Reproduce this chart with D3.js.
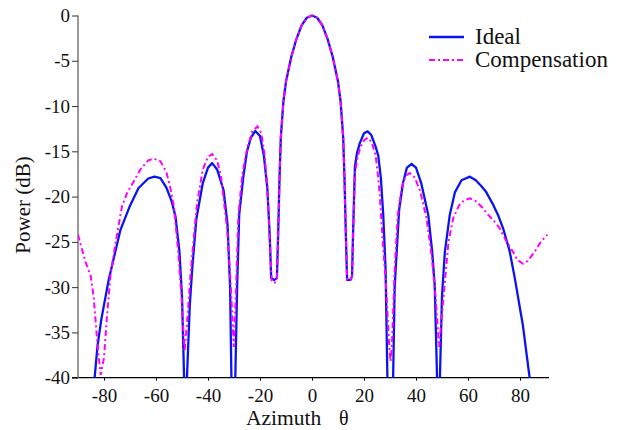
<!DOCTYPE html>
<html>
<head>
<meta charset="utf-8">
<script src="https://cdn.jsdelivr.net/npm/d3@7"></script>
<style>
  html, body { margin: 0; padding: 0; background: #ffffff; }
  svg { display: block; }
  text { font-family: "Liberation Serif", "Times New Roman", Times, serif; fill: #111; }
</style>
</head>
<body>
<svg id="chart" width="633" height="430"></svg>
<script>
// ---------- data ----------
const xTicks = [-80, -60, -40, -20, 0, 20, 40, 60, 80];
const yTicks = [0, -5, -10, -15, -20, -25, -30, -35, -40];
const seriesNames = ["Ideal", "Compensation"];

const idealAz = [-86, -83.6, -82.5, -81, -78.2, -76, -73.7, -70, -66.7, -63, -60.6, -58.3, -56, -54, -52.5, -51, -50, -49.2, -48.6, -48.1, -47, -46.1, -44.5, -42, -40, -38.4, -36.5, -34, -32.5, -31.5, -31, -30.2, -29.5, -28.8, -28, -26.4, -25, -23.5, -21.8, -20, -18.5, -17.2, -16.3, -15.7, -14.5, -13.5, -13, -12.5, -12, -11, -10, -8, -6, -4, -2, 0,
  2, 4, 6, 8, 10, 11, 12, 12.5, 13, 13.5, 14.8, 15.4, 15.8, 16.5, 17.3, 18.4, 20, 21.4, 22.8, 24.5, 25.5, 26.5, 27.4, 28.3, 29, 30.2, 31.2, 31.8, 32.4, 33.5, 35, 36.5, 38.3, 40, 42, 44.7, 46.2, 47.2, 48.1, 48.6, 49.2, 50, 51.1, 53, 55, 57.5, 60.7, 63, 65, 67, 69.5, 71.5, 73.5, 76, 78, 81.1, 83.7, 86];
const idealDb = [-48, -40, -36.5, -33.5, -29.2, -26.5, -23.7, -21, -19.05, -18, -17.8, -17.95, -19, -20.5, -22.2, -26, -31, -40, -46, -40, -32, -28.1, -22.5, -18.5, -16.8, -16.3, -17, -19.3, -23, -30, -40, -46, -40, -30, -22, -17.8, -15, -13.5, -12.75, -13.3, -15.5, -19, -24, -29, -29.2, -29, -24, -18, -13.5, -9.5, -7.3, -4.6, -2.6, -1.1, -0.25, 0,
  -0.25, -1.1, -2.6, -4.6, -7.3, -9.5, -13.5, -18, -24, -29.2, -29.2, -28.8, -24, -16.7, -15.2, -14.1, -13, -12.8, -13.2, -14.5, -15.5, -18, -22, -28, -40, -46, -40, -30, -27, -21.5, -18.5, -16.8, -16.4, -16.8, -18.5, -22, -26, -29.8, -40, -46, -40, -31, -26.1, -22, -19.5, -18.2, -17.8, -18.2, -18.8, -19.5, -20.8, -22, -23.5, -26, -29, -34.2, -40, -48];

const compAz = [-90, -88.5, -87, -85.1, -84, -82.6, -81.3, -80, -78.8, -77.5, -75.5, -73.1, -71, -69.3, -66, -63, -60.9, -58.3, -56, -54.5, -53.1, -51.5, -50.2, -49, -47.8, -46.7, -44.2, -42, -40, -38.4, -36.5, -35, -32.6, -31.2, -30.1, -29.2, -28.3, -26.8, -25, -23, -21, -19.5, -18.3, -17.2, -16.2, -15.5, -14.3, -13.5, -13, -12.5, -12, -11, -10, -8, -6, -4, -2, 0,
  2, 4, 6, 8, 10, 11, 12, 12.5, 13, 13.5, 14.8, 15.4, 15.8, 16.5, 17.5, 18.5, 20, 21.4, 23, 24.5, 25.5, 26.1, 27, 28.5, 29.6, 30.2, 30.8, 31.8, 33, 34.5, 36, 37.6, 39.5, 41.5, 44, 46, 47.5, 48.9, 50, 51.1, 52.5, 54.3, 56.5, 58.5, 60.7, 63, 65.5, 67.7, 70, 72.2, 74.5, 77.3, 79, 81.1, 83, 85.6, 88, 90.5];
const compDb = [-24.2, -25.8, -27.3, -28.8, -31, -36, -39.7, -37.8, -33, -28.7, -25, -21.1, -19.5, -18.7, -17, -16, -15.8, -16.1, -17.3, -19, -21.1, -26, -31, -37.1, -33, -28.4, -20.7, -17, -15.6, -15.3, -16, -17.8, -23.7, -30, -36.6, -30, -22, -17.5, -14.8, -12.8, -12.25, -13, -15.2, -19, -25, -29.4, -29.5, -29, -24, -18, -13.5, -9.5, -7.3, -4.6, -2.6, -1.1, -0.25, 0,
  -0.25, -1.1, -2.6, -4.6, -7.3, -9.5, -13.5, -18, -24, -29.2, -29.2, -28.8, -24, -17.5, -15.7, -14.6, -13.8, -13.5, -14, -15.5, -18, -20, -24, -30, -36, -38.2, -36, -28, -22, -19, -17.7, -17.4, -17.9, -19.3, -22.3, -26.5, -31, -36.6, -33, -29.4, -25, -22.4, -21, -20.4, -20.2, -20.5, -21.2, -22, -22.7, -23.5, -24.8, -26.1, -27, -27.4, -27.1, -26.1, -25, -24.2];

// ---------- layout ----------
const svg = d3.select("#chart");
const x = d3.scaleLinear().domain([-90, 90]).range([78, 546]);
const y = d3.scaleLinear().domain([-40, 0]).range([377.7, 15.5]);

svg.append("defs").append("clipPath").attr("id", "plotclip")
  .append("rect").attr("x", 78).attr("y", 10).attr("width", 472).attr("height", 367.7);

// x axis
const xAxis = svg.append("g").attr("transform", `translate(0,${y(-40)})`)
  .call(d3.axisBottom(x).tickValues(xTicks).tickSize(3).tickSizeOuter(0).tickFormat(d => d));
xAxis.select(".domain").remove();
xAxis.append("line").attr("x1", 72).attr("x2", 549).attr("y1", 0).attr("y2", 0)
  .attr("stroke", "#000").attr("stroke-width", 1.2);
xAxis.selectAll(".tick line").attr("stroke", "#000");
xAxis.selectAll(".tick text").attr("y", 0).attr("dy", null)
  .attr("transform", "translate(0,24)")
  .style("font-family", '"Liberation Serif", "Times New Roman", serif').style("font-size", "19px").attr("fill", "#111");

// y axis
const yAxis = svg.append("g").attr("transform", `translate(${x(-90)},0)`)
  .call(d3.axisLeft(y).tickValues(yTicks).tickSize(6).tickSizeOuter(0).tickFormat(d => d));
yAxis.select(".domain").attr("stroke", "#777").attr("stroke-width", 1.5)
  .attr("d", `M0,${y(0)}V${y(-40)}`);
yAxis.selectAll(".tick line").attr("stroke", "#333");
yAxis.selectAll(".tick text").attr("x", -8)
  .style("font-family", '"Liberation Serif", "Times New Roman", serif').style("font-size", "19px").attr("fill", "#111");

// lines
const lineGen = d3.line().x(d => x(d[0])).y(d => y(d[1])).curve(d3.curveLinear);
const idealPts = d3.zip(idealAz, idealDb);
const compPts = d3.zip(compAz, compDb);

const plot = svg.append("g").attr("clip-path", "url(#plotclip)");
plot.append("path").datum(idealPts).attr("d", lineGen)
  .attr("fill", "none").attr("stroke", "#0a14f0").attr("stroke-width", 2.3)
  .attr("stroke-linejoin", "round");
plot.append("path").datum(compPts).attr("d", lineGen)
  .attr("fill", "none").attr("stroke", "#ff00ff").attr("stroke-width", 2)
  .attr("stroke-dasharray", "6,3,2,3");

// axis titles
svg.append("text").attr("transform", "translate(30,205) rotate(-90)")
  .attr("text-anchor", "middle").style("font-size", "21px").text("Power (dB)");
svg.append("text").attr("x", 246).attr("y", 425).style("font-size", "21.5px").text("Azimuth");
svg.append("text").attr("x", 339).attr("y", 425).style("font-size", "20px").text("θ");

// legend
const legend = svg.append("g");
const legStyles = [
  { color: "#0a14f0", dash: null, w: 2.3 },
  { color: "#ff00ff", dash: "6,3,2,3", w: 2 }
];
seriesNames.forEach((name, i) => {
  const ly = 37 + i * 23;
  legend.append("line").attr("x1", 429).attr("x2", 464).attr("y1", ly).attr("y2", ly)
    .attr("stroke", legStyles[i].color).attr("stroke-width", legStyles[i].w)
    .attr("stroke-dasharray", legStyles[i].dash);
  legend.append("text").attr("x", 475).attr("y", ly + 7).style("font-size", "23px").text(name);
});
</script>
</body>
</html>
